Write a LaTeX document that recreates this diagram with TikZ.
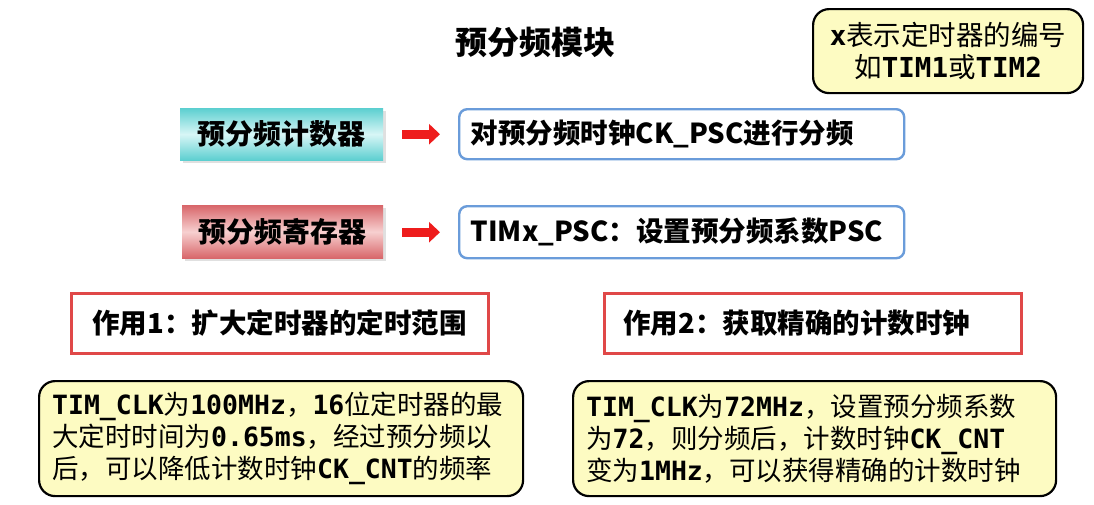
\documentclass[tikz,border=0pt]{standalone}
\usepackage{fontspec}
\setmainfont{Noto Sans CJK SC}
\setmonofont{DejaVu Sans Mono}
\usetikzlibrary{arrows.meta,shadows}
\newcommand\monob[1]{{\ttfamily\bfseries #1}}
\definecolor{noteyellow}{HTML}{FDFBC2}
\definecolor{boxblue}{HTML}{6A9CDA}
\definecolor{boxred}{HTML}{E04848}
\definecolor{cyanedge}{HTML}{5CCFD0}
\definecolor{cyanmid}{HTML}{D8F6F6}
\definecolor{pinkedge}{HTML}{D8666A}
\definecolor{pinkmid}{HTML}{F7D0D0}
\definecolor{arrowred}{HTML}{EE1C1C}
\tikzset{
  note/.style={draw=black, line width=2.2pt, fill=noteyellow, rounded corners=16pt,
    anchor=north west, inner sep=0pt, font=\fontsize{26.5}{32}\selectfont},
  descbox/.style={draw=boxblue, line width=2.4pt, fill=white, rounded corners=8pt,
    anchor=north west, inner sep=0pt, align=left, font=\bfseries\fontsize{27.5}{32}\selectfont},
  rolebox/.style={draw=boxred, line width=2.8pt, fill=white,
    anchor=north west, inner sep=0pt, align=left, font=\bfseries\fontsize{27.5}{32}\selectfont},
  gradbox/.style={anchor=north west, inner sep=0pt, font=\bfseries\fontsize{28}{32}\selectfont,
    drop shadow={shadow xshift=3pt, shadow yshift=-3pt, fill=black!12, opacity=1}},
  blockarrow/.style={draw=arrowred, line width=9pt, -{Triangle[length=11pt,width=20pt]}}
}
\begin{document}
\begin{tikzpicture}[x=1pt,y=-1pt]
\useasboundingbox[fill=white] (0,0) rectangle (1094,504);

% title
\node[font=\bfseries\fontsize{32}{36}\selectfont] (title) at (535,42) {预分频模块};

% note top right
\node[note, minimum width=270pt, minimum height=84pt, align=center,
  font=\fontsize{27.5}{32}\selectfont] (xnote) at (812,8)
  {\monob{x}表示定时器的编号\\如\monob{TIM1}或\monob{TIM2}};

% gradient boxes
\node[gradbox, minimum width=203pt, minimum height=52pt,
  top color=cyanedge, bottom color=cyanedge, middle color=cyanmid] (cnt) at (180,108) {预分频计数器};
\node[gradbox, minimum width=201pt, minimum height=53pt,
  top color=pinkedge, bottom color=pinkedge, middle color=pinkmid] (reg) at (182,205) {预分频寄存器};

% description boxes
\node[descbox, minimum width=445pt, minimum height=50pt, text width=436pt] (d1) at (458,108)
  {\hspace*{7pt}对预分频时钟CK\_PSC进行分频};
\node[descbox, minimum width=445pt, minimum height=52pt, text width=436pt] (d2) at (458,205)
  {\hspace*{7pt}TIMx\_PSC：设置预分频系数PSC};

% arrows
\draw[blockarrow] ([xshift=19pt]cnt.east) -- ([xshift=-18pt]d1.west);
\draw[blockarrow] ([xshift=19pt]reg.east |- d2.west) -- ([xshift=-18pt]d2.west);

% role boxes
\node[rolebox, minimum width=417pt, minimum height=60pt, text width=417pt] (r1) at (70,292)
  {\hspace*{21pt}作用1：扩大定时器的定时范围};
\node[rolebox, minimum width=417pt, minimum height=60pt, text width=417pt] (r2) at (603,292)
  {\hspace*{19pt}作用2：获取精确的计数时钟};

% explanation notes
\node[note, minimum width=484pt, minimum height=115pt, text width=458pt, inner xsep=13pt, align=left] (e1) at (38,380)
  {\monob{TIM\_CLK}为\monob{100MHz}，\monob{16}位定时器的最\\
   大定时时间为\monob{0.65ms}，经过预分频以\\
   后，可以降低计数时钟\monob{CK\_CNT}的频率};
\node[note, minimum width=483pt, minimum height=115pt, text width=457pt, inner xsep=13pt, align=left] (e2) at (572,380)
  {\monob{TIM\_CLK}为\monob{72MHz}，设置预分频系数\\
   为\monob{72}，则分频后，计数时钟\monob{CK\_CNT}\\
   变为\monob{1MHz}，可以获得精确的计数时钟};
\end{tikzpicture}
\end{document}
